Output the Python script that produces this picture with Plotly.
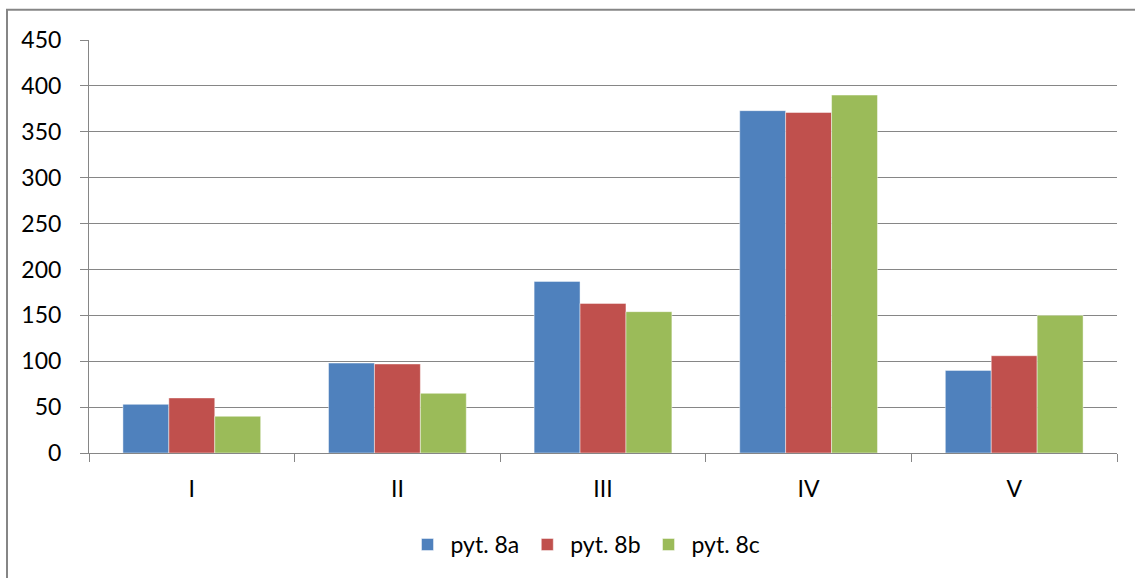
import plotly.graph_objects as go

categories = ["I", "II", "III", "IV", "V"]
pyt_8a = [53, 98, 187, 373, 90]
pyt_8b = [60, 97, 163, 371, 106]
pyt_8c = [40, 65, 154, 390, 150]
y_ticks = [0, 50, 100, 150, 200, 250, 300, 350, 400, 450]

series = [
    ("pyt. 8a", pyt_8a, "#4F81BD"),
    ("pyt. 8b", pyt_8b, "#C0504D"),
    ("pyt. 8c", pyt_8c, "#9BBB59"),
]

fig = go.Figure()
for name, vals, color in series:
    fig.add_trace(go.Bar(
        x=categories, y=vals, name=name,
        marker=dict(color=color, line=dict(color="rgba(255,255,255,0.45)", width=1)),
    ))

font_family = "Lato, 'Liberation Sans', sans-serif"
W, H = 1135, 578
L, R, T, B = 89, 18, 40, 123
pw = W - L - R
ph = H - T - B

def px_x(p):
    return (p - L) / pw

def px_y(p):
    return (H - B - p) / ph

fig.update_layout(
    width=W, height=H,
    margin=dict(l=L, r=R, t=T, b=B),
    paper_bgcolor="white", plot_bgcolor="white",
    barmode="group", bargap=0.33, bargroupgap=0,
    font=dict(family=font_family, size=23, color="#000000"),
    showlegend=True,
    legend=dict(
        orientation="h", x=px_x(585), y=px_y(547),
        xanchor="center", yanchor="middle",
        font=dict(size=23), itemwidth=36, traceorder="normal",
    ),
    xaxis=dict(
        showgrid=False, showline=True, linecolor="#868686", linewidth=1,
        ticks="outside", tickson="boundaries", ticklen=8, tickcolor="#868686",
        tickfont=dict(size=23), ticklabelstandoff=15,
    ),
    yaxis=dict(
        range=[0, 450], tickvals=y_ticks,
        showgrid=True, gridcolor="#868686", gridwidth=1,
        showline=True, linecolor="#868686", linewidth=1,
        ticks="outside", ticklen=8, tickcolor="#868686",
        tickfont=dict(size=23), ticklabelstandoff=14, zeroline=False,
    ),
    shapes=[dict(
        type="rect", xref="paper", yref="paper",
        x0=px_x(7), x1=px_x(1145), y0=px_y(590), y1=px_y(9.5),
        line=dict(color="#868686", width=2), fillcolor="rgba(0,0,0,0)",
        layer="below",
    )],
)

fig.write_html(
    "out.html",
    config={"displayModeBar": False},
    post_script="document.body.style.margin='0';document.body.style.overflow='hidden';",
)
